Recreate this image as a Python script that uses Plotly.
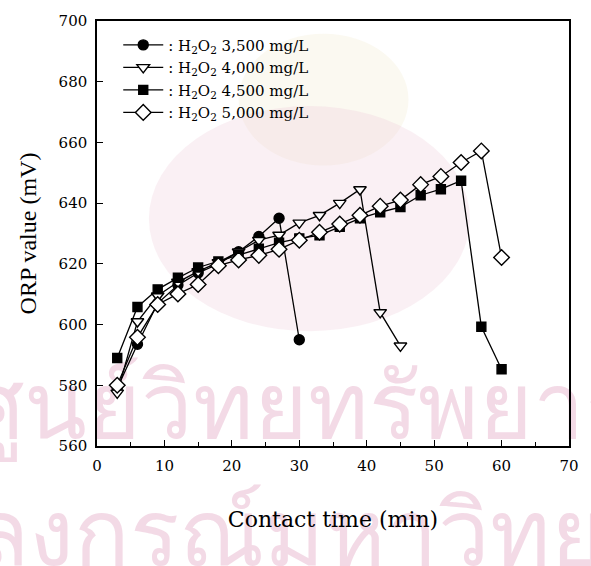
import plotly.graph_objects as go

# Contact time (min) and ORP readings (mV) for each H2O2 dose
t_3500 = [3, 6, 9, 12, 15, 18, 21, 24, 27, 30]
orp_3500 = [579, 593.5, 607, 613, 617, 620, 624, 629, 635, 595]

t_4000 = [3, 6, 9, 12, 15, 18, 21, 24, 27, 30, 33, 36, 39, 42, 45]
orp_4000 = [577.5, 601, 609.5, 614, 617.5, 620.5, 624, 627.8, 629.5, 633.5,
             636, 640, 644.5, 604, 593]

t_4500 = [3, 6, 9, 12, 15, 18, 21, 24, 27, 30, 33, 36, 39, 42, 45, 48, 51, 54,
          57, 60]
orp_4500 = [589, 605.8, 611.6, 615.4, 618.8, 620.8, 623, 625, 627, 628.4,
            629.4, 632.2, 635, 637, 638.7, 642.6, 644.6, 647.4, 599.3, 585.3]

t_5000 = [3, 6, 9, 12, 15, 18, 21, 24, 27, 30, 33, 36, 39, 42, 45, 48, 51, 54,
          57, 60]
orp_5000 = [580, 595.8, 606.6, 610.1, 613.2, 619.4, 621.3, 622.8, 624.8, 627.8,
            630.4, 633.1, 636, 639, 641, 646.1, 648.8, 653.4, 657.2, 622.1]

doses = ["3,500", "4,000", "4,500", "5,000"]
x_ticks = [0, 10, 20, 30, 40, 50, 60, 70]
y_ticks = [560, 580, 600, 620, 640, 660, 680, 700]

WIDE = "DejaVu Serif"
NARROW = "Liberation Serif"
series = [
    (t_3500, orp_3500, "circle", "black", 10),
    (t_4000, orp_4000, "triangle-down", "white", 11),
    (t_4500, orp_4500, "square", "black", 9),
    (t_5000, orp_5000, "diamond", "white", 12),
]

fig = go.Figure()
for dose, (tx, vy, sym, fill, size) in zip(doses, series):
    fig.add_trace(go.Scatter(
        x=tx, y=vy, mode="lines+markers",
        name=f": H<sub>2</sub>O<sub>2</sub> {dose} mg/L",
        line=dict(color="black", width=1.3),
        marker=dict(symbol=sym, size=size, color=fill,
                    line=dict(color="black", width=1.4)),
    ))

# faint background watermark
wm_font = dict(family=NARROW, size=92, color="rgba(226,168,196,0.42)")
shapes = [
    dict(type="circle", xref="paper", yref="paper", x0=0.30, x1=0.66,
         y0=0.66, y1=0.97, fillcolor="rgba(240,228,196,0.24)",
         line=dict(width=0), layer="below"),
    dict(type="circle", xref="paper", yref="paper", x0=0.11, x1=0.79,
         y0=0.27, y1=0.80, fillcolor="rgba(238,200,214,0.28)",
         line=dict(width=0), layer="below"),
    dict(type="rect", xref="paper", yref="paper", x0=-0.26, x1=1.24,
         y0=0.0, y1=0.22, fillcolor="rgba(0,0,0,0)", line=dict(width=0),
         layer="below",
         label=dict(text="ศูนย์วิทยทรัพยากร", font=wm_font)),
    dict(type="rect", xref="paper", yref="paper", x0=-0.35, x1=1.15,
         y0=-0.30, y1=-0.08, fillcolor="rgba(0,0,0,0)", line=dict(width=0),
         layer="below",
         label=dict(text="จุฬาลงกรณ์มหาวิทยาลัย", font=wm_font)),
]

axis_common = dict(
    showline=True, linecolor="black", linewidth=1.5, mirror=True,
    ticks="inside", tickcolor="black", ticklen=6, tickwidth=1.2,
    showgrid=False, zeroline=False, ticklabelstandoff=5,
    tickfont=dict(family=WIDE, size=15, color="black"),
)

fig.update_layout(
    width=591, height=566,
    margin=dict(l=97, r=13, t=17, b=120),
    paper_bgcolor="white", plot_bgcolor="rgba(0,0,0,0)",
    font=dict(family=WIDE, color="black"),
    shapes=shapes,
    showlegend=True,
    legend=dict(x=0.045, y=0.982, xanchor="left", yanchor="top",
                bgcolor="rgba(0,0,0,0)", borderwidth=0,
                font=dict(family=WIDE, size=15, color="black"),
                tracegroupgap=0, itemwidth=40),
    xaxis=dict(range=[0, 70], tickvals=x_ticks,
               minor=dict(ticks="inside", ticklen=4, dtick=5,
                          tickcolor="black"),
               title=dict(text="Contact time (min)",
                          font=dict(family=WIDE, size=22), standoff=38),
               **axis_common),
    yaxis=dict(range=[560, 700], tickvals=y_ticks,
               title=dict(text="ORP value (mV)",
                          font=dict(family=NARROW, size=24), standoff=15),
               **axis_common),
)

fig.write_html("out.html")
